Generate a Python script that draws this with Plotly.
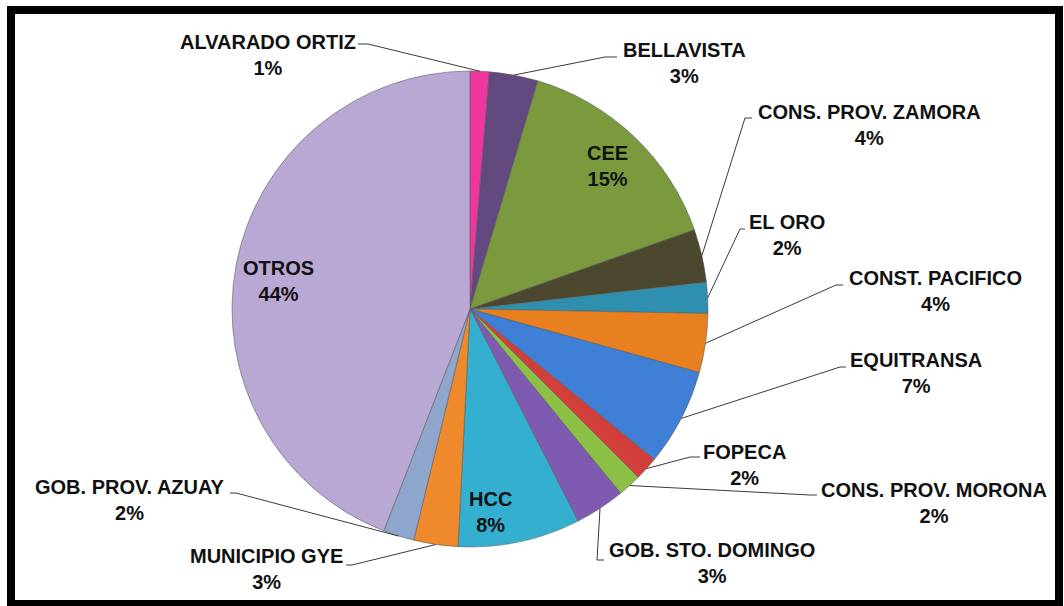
import math
import plotly.graph_objects as go

# ---- data ----
entidades = ["ALVARADO ORTIZ", "BELLAVISTA", "CEE", "CONS. PROV. ZAMORA", "EL ORO",
             "CONST. PACIFICO", "EQUITRANSA", "FOPECA", "CONS. PROV. MORONA",
             "GOB. STO. DOMINGO", "HCC", "MUNICIPIO GYE", "GOB. PROV. AZUAY", "OTROS"]
porcentajes = [1.3, 3.3, 15.0, 3.6, 2.1, 4.0, 6.6, 1.6, 1.6, 3.4, 8.3, 3.0, 2.1, 44.1]

# ---- styles ----
colores = ["#f0359e", "#62497f", "#7a9a3d", "#4c4830", "#2f8fae", "#e8801f", "#3f7fd6",
           "#d23f3a", "#8cbf45", "#7e5bb0", "#35afd0", "#ee8a2c", "#8fa6cc", "#b9a8d4"]

W, H = 1064, 606
CX, CY, R = 470, 309, 238


def px(x):
    return x / W


def py(y):
    return 1 - y / H


# label block centre (pixels); leader: (text-side point, elbow) or None for inside labels
label_layout = {
    "ALVARADO ORTIZ": ((268, 55), ((358, 44), (368, 44))),
    "BELLAVISTA": ((684, 63), ((617, 57), (605, 57))),
    "CEE": ((607, 166), None),
    "CONS. PROV. ZAMORA": ((869, 125), ((752, 118), (745, 118))),
    "EL ORO": ((787, 235), ((745, 229), (740, 229))),
    "CONST. PACIFICO": ((935, 291), ((843, 285), (836, 285))),
    "EQUITRANSA": ((916, 373), ((846, 367), (840, 367))),
    "FOPECA": ((744, 465), ((700, 457), (690, 457))),
    "CONS. PROV. MORONA": ((934, 503), ((817, 495), (810, 495))),
    "GOB. STO. DOMINGO": ((712, 563), ((604, 560), (597, 560))),
    "HCC": ((490, 512), None),
    "MUNICIPIO GYE": ((266, 569), ((346, 565), (352, 565))),
    "GOB. PROV. AZUAY": ((130, 500), ((230, 493), (236, 493))),
    "OTROS": ((278, 281), None),
}

total = sum(porcentajes)

fig = go.Figure(go.Pie(
    labels=entidades,
    values=porcentajes,
    sort=False,
    direction="clockwise",
    rotation=0,
    textinfo="none",
    marker=dict(colors=colores, line=dict(color="rgba(90,90,90,0.55)", width=1)),
    domain=dict(x=[px(CX - R), px(CX + R)], y=[py(CY + R), py(CY - R)]),
    hovertemplate="%{label}: %{percent}<extra></extra>",
))

annotations = []
shapes = []
cum = 0.0
for name, val in zip(entidades, porcentajes):
    mid = (cum + val / 2) / total
    cum += val
    ang = 2 * math.pi * mid
    ex, ey = CX + R * math.sin(ang), CY - R * math.cos(ang)
    (lx, ly), leader = label_layout[name]
    pct = int(val / total * 100 + 0.5)
    annotations.append(dict(
        x=px(lx), y=py(ly), xref="paper", yref="paper",
        text=f"<b>{name}</b><br><b>{pct}%</b>",
        showarrow=False, xanchor="center", yanchor="middle", align="center",
        font=dict(family="Liberation Sans, Arial, sans-serif", size=20, color="#111111"),
    ))
    if leader:
        (tx, ty), (bx, by) = leader
        path = f"M {px(tx)},{py(ty)} L {px(bx)},{py(by)} L {px(ex)},{py(ey)}"
        shapes.append(dict(type="path", xref="paper", yref="paper", path=path,
                           line=dict(color="#3a3a3a", width=1)))

# outer black frame
shapes.append(dict(type="rect", xref="paper", yref="paper",
                   x0=px(11), x1=px(1059), y0=py(604), y1=py(10),
                   line=dict(color="black", width=8)))

fig.update_layout(
    width=W, height=H,
    margin=dict(l=0, r=0, t=0, b=0),
    paper_bgcolor="white", plot_bgcolor="white",
    showlegend=False,
    annotations=annotations,
    shapes=shapes,
)

fig.write_html("out.html", config={"displayModeBar": False},
               post_script="document.body.style.margin='0';document.body.style.overflow='hidden';")
